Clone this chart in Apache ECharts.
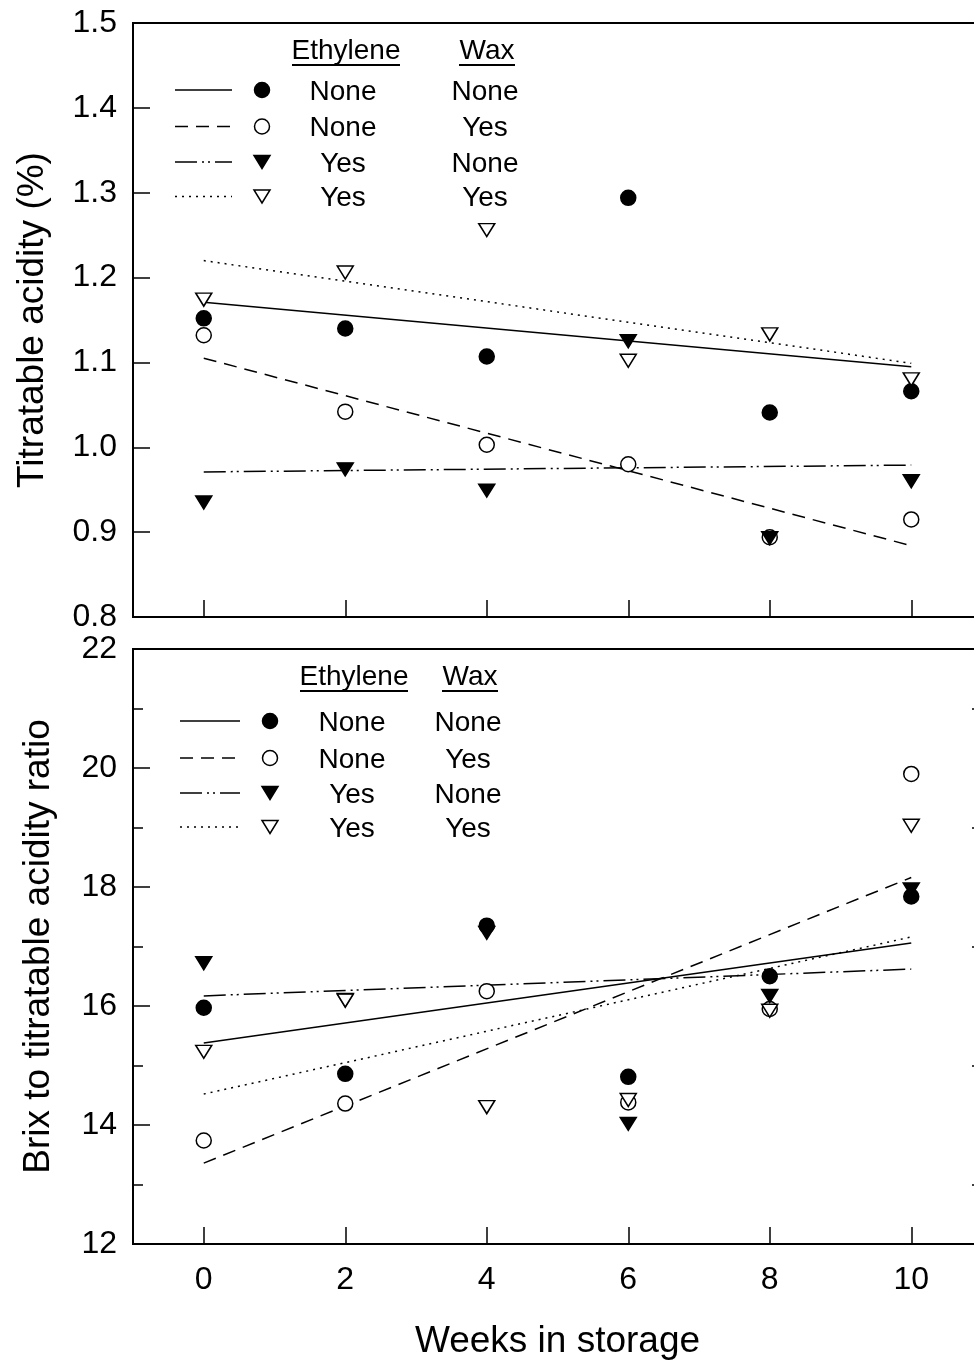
<!DOCTYPE html>
<html>
<head>
<meta charset="utf-8">
<script src="https://cdn.jsdelivr.net/npm/echarts@6/dist/echarts.min.js"></script>
<style>
html,body{margin:0;padding:0;background:#fff;overflow:hidden;width:974px;height:1361px;}
#chart{width:990px;height:1361px;}
</style>
</head>
<body>
<div id="chart"></div>
<script>
// ---- data ----
const weeks = [0, 2, 4, 6, 8, 10];
const xTickLabels = [0, 2, 4, 6, 8, 10];
const fitX = [0, 10];

// Titratable acidity (%)
const taNoneNone = [1.152, 1.140, 1.107, 1.294, 1.041, 1.066];
const taNoneYes  = [1.132, 1.042, 1.003, 0.980, 0.894, 0.915];
const taYesNone  = [0.935, 0.974, 0.949, 1.125, 0.893, 0.960];
const taYesYes   = [1.174, 1.206, 1.256, 1.102, 1.133, 1.080];
const taFitNoneNone = [1.171, 1.095];
const taFitNoneYes  = [1.105, 0.884];
const taFitYesNone  = [0.971, 0.979];
const taFitYesYes   = [1.220, 1.099];
const taTicks = [0.8, 0.9, 1.0, 1.1, 1.2, 1.3, 1.4, 1.5];

// Brix to titratable acidity ratio
const brNoneNone = [15.97, 14.86, 17.35, 14.81, 16.50, 17.84];
const brNoneYes  = [13.74, 14.36, 16.25, 14.38, 15.95, 19.90];
const brYesNone  = [16.72, 16.10, 17.23, 14.02, 16.17, 17.96];
const brYesYes   = [15.23, 16.09, 14.30, 14.42, 15.92, 19.03];
const brFitNoneNone = [15.38, 17.06];
const brFitNoneYes  = [13.36, 18.16];
const brFitYesNone  = [16.17, 16.62];
const brFitYesYes   = [14.52, 17.16];
const brTicks = [12, 14, 16, 18, 20, 22];

const legendEthylene = ['None', 'None', 'Yes', 'Yes'];
const legendWax      = ['None', 'Yes', 'None', 'Yes'];

// ---- styles ----
const FONT = "'Liberation Sans', Arial, Helvetica, sans-serif";
const TICKFS = 32;
const dashStyles = ['solid', [13, 8], [22, 5, 2, 4, 2, 5], [2, 5]];
const symbolDefs = [
  {symbol: 'circle', size: 15, fill: '#000'},
  {symbol: 'circle', size: 15, fill: '#fff'},
  {symbol: 'triangle', size: [16, 13], fill: '#000', rotate: 180},
  {symbol: 'triangle', size: [16, 13], fill: '#fff', rotate: 180}
];

const chart = echarts.init(document.getElementById('chart'), null, {renderer: 'canvas', width: 990, height: 1361});

function mkX(gridIndex, showLabels) {
  return {
    type: 'value', gridIndex: gridIndex, min: -1, max: 11,
    axisLine: {show: true, onZero: false, lineStyle: {color: '#000', width: 2}},
    axisTick: {show: true, inside: true, length: 17, customValues: xTickLabels, lineStyle: {color: '#000', width: 1.5}},
    axisLabel: {show: showLabels, customValues: xTickLabels, margin: 20, color: '#000', fontSize: TICKFS, fontFamily: FONT},
    splitLine: {show: false},
    name: showLabels ? 'Weeks in storage' : '',
    nameLocation: 'middle', nameGap: 79,
    nameTextStyle: {color: '#000', fontSize: 37, fontFamily: FONT}
  };
}

function mkScatter(name, xi, yi, arr, k) {
  const d = symbolDefs[k];
  return {
    type: 'scatter', name: name, xAxisIndex: xi, yAxisIndex: yi,
    data: weeks.map((w, i) => [w, arr[i]]),
    symbol: d.symbol, symbolSize: d.size, symbolRotate: d.rotate || 0,
    itemStyle: {color: d.fill, borderColor: '#000', borderWidth: 1.5, opacity: 1},
    z: 5 + k, silent: true
  };
}
function mkFit(name, xi, yi, fit, k) {
  return {
    type: 'line', name: name, xAxisIndex: xi, yAxisIndex: yi,
    data: fitX.map((x, i) => [x, fit[i]]),
    showSymbol: false, symbol: 'none',
    lineStyle: {color: '#000', width: 1.5, type: dashStyles[k]},
    z: 2, silent: true
  };
}

// ---- legend graphics ----
function legendGraphics(cfg) {
  const els = [];
  const hdrs = [['Ethylene', cfg.c1h], ['Wax', cfg.c2h]];
  hdrs.forEach(([t, cx]) => {
    els.push({type: 'text', x: cx, y: cfg.hy, style: {text: t, fontSize: 28, fontFamily: FONT, fill: '#000', align: 'center', verticalAlign: 'middle'}});
  });
  els.push({type: 'line', shape: {x1: cfg.c1h - 54, y1: cfg.hy + 14, x2: cfg.c1h + 54, y2: cfg.hy + 14}, style: {stroke: '#000', lineWidth: 2}});
  els.push({type: 'line', shape: {x1: cfg.c2h - 28, y1: cfg.hy + 14, x2: cfg.c2h + 28, y2: cfg.hy + 14}, style: {stroke: '#000', lineWidth: 2}});
  for (let k = 0; k < 4; k++) {
    const y = cfg.rows[k];
    const dash = dashStyles[k] === 'solid' ? null : dashStyles[k];
    els.push({type: 'line', shape: {x1: cfg.lx1, y1: y, x2: cfg.lx2, y2: y}, style: {stroke: '#000', lineWidth: 1.5, lineDash: dash}});
    const d = symbolDefs[k];
    if (d.symbol === 'circle') {
      els.push({type: 'circle', shape: {cx: cfg.mx, cy: y, r: 7.5}, style: {fill: d.fill, stroke: '#000', lineWidth: 1.5}});
    } else {
      els.push({type: 'polygon', shape: {points: [[cfg.mx - 8, y - 6.5], [cfg.mx + 8, y - 6.5], [cfg.mx, y + 6.5]]}, style: {fill: d.fill, stroke: '#000', lineWidth: 1.5}});
    }
    els.push({type: 'text', x: cfg.c1, y: y + 2, style: {text: legendEthylene[k], fontSize: 28, fontFamily: FONT, fill: '#000', align: 'center', verticalAlign: 'middle'}});
    els.push({type: 'text', x: cfg.c2, y: y + 2, style: {text: legendWax[k], fontSize: 28, fontFamily: FONT, fill: '#000', align: 'center', verticalAlign: 'middle'}});
  }
  return els;
}

const graphics = [].concat(
  legendGraphics({hy: 51, c1h: 346, c2h: 487, rows: [90, 126.5, 162, 196.5], lx1: 175, lx2: 232, mx: 262, c1: 343, c2: 485}),
  legendGraphics({hy: 677, c1h: 354, c2h: 470, rows: [721, 758, 793, 827], lx1: 180, lx2: 240, mx: 270, c1: 352, c2: 468})
);

function mkYLeft(gridIndex, ticks, interval, name, nameGap, fmt, minor) {
  return {
    type: 'value', gridIndex: gridIndex, min: ticks[0], max: ticks[ticks.length - 1], interval: interval,
    axisLine: {show: true, onZero: false, lineStyle: {color: '#000', width: 2}},
    axisTick: {show: true, inside: true, length: 17, lineStyle: {color: '#000', width: 1.5}},
    minorTick: {show: minor, splitNumber: 2, length: 10, lineStyle: {color: '#000', width: 1.5}},
    axisLabel: {margin: 16, color: '#000', fontSize: TICKFS, fontFamily: FONT, formatter: fmt},
    splitLine: {show: false}, minorSplitLine: {show: false},
    name: name, nameLocation: 'middle', nameGap: nameGap,
    nameTextStyle: {color: '#000', fontSize: 37, fontFamily: FONT}
  };
}

const option = {
  animation: false,
  backgroundColor: '#fff',
  grid: [
    {left: 133, top: 23, width: 849, height: 594, show: true, borderColor: '#000', borderWidth: 2, backgroundColor: 'transparent'},
    {left: 133, top: 649, width: 849, height: 595, show: true, borderColor: '#000', borderWidth: 2, backgroundColor: 'transparent'}
  ],
  xAxis: [mkX(0, false), mkX(1, true)],
  yAxis: [
    mkYLeft(0, taTicks, 0.1, 'Titratable acidity (%)', 82, v => v.toFixed(1), false),
    mkYLeft(1, brTicks, 2, 'Brix to titratable acidity ratio', 76, v => String(v), true),
    {
      type: 'value', gridIndex: 1, position: 'right', min: brTicks[0], max: brTicks[brTicks.length - 1], interval: 2,
      axisLine: {show: true, onZero: false, lineStyle: {color: '#000', width: 2}},
      axisTick: {show: false, inside: true},
      minorTick: {show: true, splitNumber: 2, length: 10, lineStyle: {color: '#000', width: 1.5}},
      axisLabel: {show: false},
      splitLine: {show: false}, minorSplitLine: {show: false}
    }
  ],
  series: [
    mkFit('ta NN fit', 0, 0, taFitNoneNone, 0),
    mkFit('ta NY fit', 0, 0, taFitNoneYes, 1),
    mkFit('ta YN fit', 0, 0, taFitYesNone, 2),
    mkFit('ta YY fit', 0, 0, taFitYesYes, 3),
    mkScatter('ta NN', 0, 0, taNoneNone, 0),
    mkScatter('ta NY', 0, 0, taNoneYes, 1),
    mkScatter('ta YN', 0, 0, taYesNone, 2),
    mkScatter('ta YY', 0, 0, taYesYes, 3),
    mkFit('br NN fit', 1, 1, brFitNoneNone, 0),
    mkFit('br NY fit', 1, 1, brFitNoneYes, 1),
    mkFit('br YN fit', 1, 1, brFitYesNone, 2),
    mkFit('br YY fit', 1, 1, brFitYesYes, 3),
    mkScatter('br NN', 1, 1, brNoneNone, 0),
    mkScatter('br NY', 1, 1, brNoneYes, 1),
    mkScatter('br YN', 1, 1, brYesNone, 2),
    mkScatter('br YY', 1, 1, brYesYes, 3)
  ],
  graphic: graphics
};
chart.setOption(option);
</script>
</body>
</html>
